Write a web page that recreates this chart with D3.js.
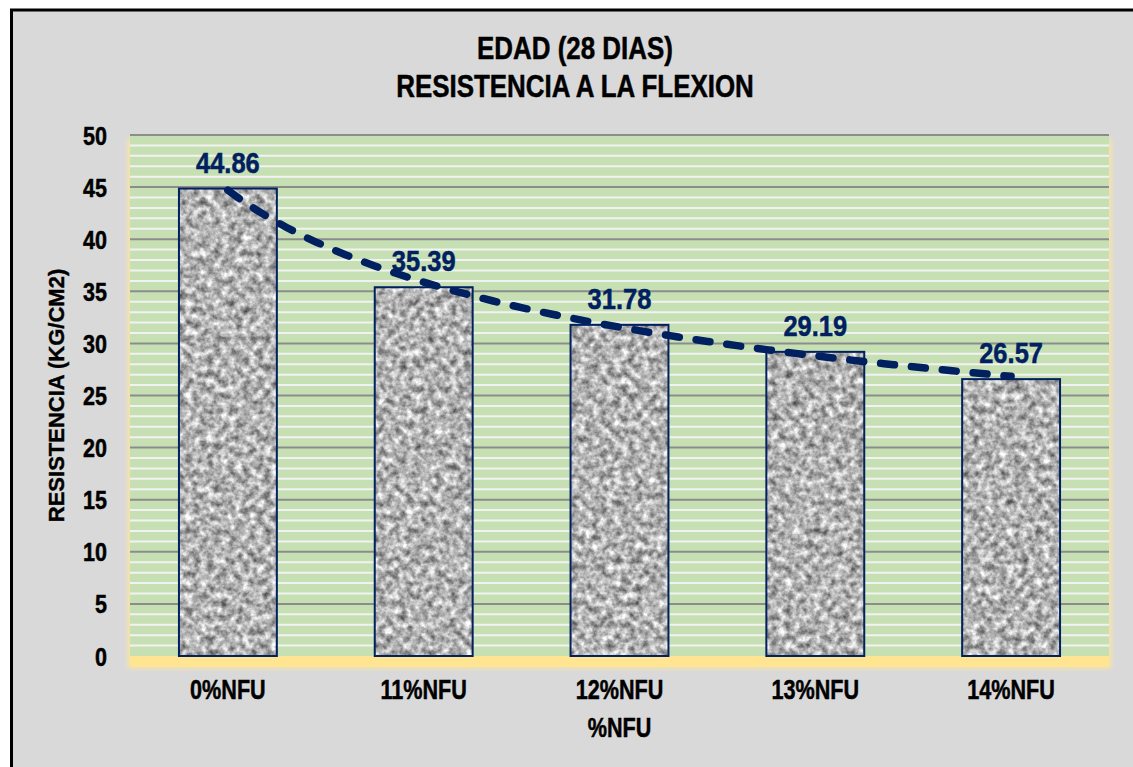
<!DOCTYPE html>
<html>
<head>
<meta charset="utf-8">
<script src="https://cdn.jsdelivr.net/npm/d3@7"></script>
<style>
  html, body { margin: 0; padding: 0; background: #ffffff; }
  svg { display: block; }
  text { font-family: "Liberation Sans", Arial, sans-serif; font-weight: bold; }
</style>
</head>
<body>
<svg id="chart" width="1133" height="767"></svg>
<script>
// Flexural strength at 28 days for each %NFU mix
const categories = ["0%NFU", "11%NFU", "12%NFU", "13%NFU", "14%NFU"];
const resistencia = [44.86, 35.39, 31.78, 29.19, 26.57];
const yTicks = [0, 5, 10, 15, 20, 25, 30, 35, 40, 45, 50];
const titleLines = ["EDAD (28 DIAS)", "RESISTENCIA A LA FLEXION"];
const xTitle = "%NFU";
const yTitle = "RESISTENCIA (KG/CM2)";

const W = 1133, H = 767;
const plot = { left: 130, right: 1109, top: 135, bottom: 656 };
const navy = "#002060";

const svg = d3.select("#chart");
const defs = svg.append("defs");

// Granite-like grey texture for the bars
const noise = defs.append("filter").attr("id", "granite")
  .attr("x", 0).attr("y", 0).attr("width", 1).attr("height", 1)
  .attr("color-interpolation-filters", "sRGB");
noise.append("feTurbulence").attr("type", "fractalNoise")
  .attr("baseFrequency", 0.14).attr("numOctaves", 3).attr("seed", 7).attr("result", "n");
noise.append("feColorMatrix").attr("in", "n").attr("type", "matrix")
  .attr("values", "1.0 0 0 0 0.2  1.0 0 0 0 0.2  1.0 0 0 0 0.2  0 0 0 0 1")
  .attr("result", "g");
noise.append("feGaussianBlur").attr("in", "g").attr("stdDeviation", 0.5);
const pat = defs.append("pattern").attr("id", "granitePat")
  .attr("patternUnits", "userSpaceOnUse").attr("width", W).attr("height", H);
pat.append("rect").attr("width", W).attr("height", H).attr("filter", "url(#granite)");

const glow = defs.append("filter").attr("id", "glow")
  .attr("x", -0.05).attr("y", -0.05).attr("width", 1.1).attr("height", 1.1);
glow.append("feGaussianBlur").attr("stdDeviation", 2.5);

// Chart frame
svg.append("rect").attr("x", 11.5).attr("y", 10).attr("width", W + 20).attr("height", H + 20)
  .attr("fill", "#d9d9d9").attr("stroke", "#000").attr("stroke-width", 3);

// Scales
const x = d3.scaleBand().domain(categories).range([plot.left, plot.right])
  .paddingInner(0.5).paddingOuter(0.25);
const y = d3.scaleLinear().domain([0, 50]).range([plot.bottom, plot.top]);

// Soft yellow floor / edge glow behind the plot area
svg.append("rect").attr("x", plot.left - 2).attr("y", plot.top + 4)
  .attr("width", plot.right - plot.left + 4).attr("height", plot.bottom - plot.top + 8)
  .attr("fill", "#fde6a0").attr("filter", "url(#glow)");
svg.append("rect").attr("x", plot.left).attr("y", plot.bottom)
  .attr("width", plot.right - plot.left).attr("height", 11)
  .attr("fill", "#ffe592");

// Plot background
svg.append("rect").attr("x", plot.left).attr("y", plot.top)
  .attr("width", plot.right - plot.left).attr("height", plot.bottom - plot.top)
  .attr("fill", "#c6e0b4");

// Minor (unit) gridlines
const minor = d3.range(1, 50).filter(v => v % 5 !== 0);
svg.append("g").selectAll("line").data(minor).join("line")
  .attr("x1", plot.left).attr("x2", plot.right)
  .attr("y1", d => y(d)).attr("y2", d => y(d))
  .attr("stroke", "#f2f2f2").attr("stroke-width", 2);

// Major gridlines
svg.append("g").selectAll("line").data(yTicks.filter(v => v > 0)).join("line")
  .attr("x1", plot.left).attr("x2", plot.right)
  .attr("y1", d => y(d)).attr("y2", d => y(d))
  .attr("stroke", "#8c8c8c").attr("stroke-width", 2);

// Bars
svg.append("g").selectAll("rect").data(resistencia).join("rect")
  .attr("x", (d, i) => x(categories[i]))
  .attr("y", d => y(d))
  .attr("width", x.bandwidth())
  .attr("height", d => y(0) - y(d))
  .attr("fill", "url(#granitePat)")
  .attr("stroke", navy).attr("stroke-width", 2);

// Power trendline fitted to the bar values (y = a * n^b)
const lx = resistencia.map((d, i) => Math.log(i + 1));
const ly = resistencia.map(d => Math.log(d));
const mx = d3.mean(lx), my = d3.mean(ly);
const b = d3.sum(lx, (v, i) => (v - mx) * (ly[i] - my)) / d3.sum(lx, v => (v - mx) * (v - mx));
const a = Math.exp(my - b * mx);
const xn = d3.scaleLinear().domain([1, categories.length])
  .range([x(categories[0]) + x.bandwidth() / 2, x(categories[categories.length - 1]) + x.bandwidth() / 2]);
const trend = d3.range(1, categories.length + 0.001, 0.05).map(n => [xn(n), y(a * Math.pow(n, b))]);
svg.append("path").datum(trend)
  .attr("d", d3.line())
  .attr("fill", "none").attr("stroke", navy).attr("stroke-width", 7.5)
  .attr("stroke-linecap", "round").attr("stroke-dasharray", "14 17");

// Text helper: narrows the glyphs to a condensed look and thickens strokes
function condense(sel, k) {
  sel.each(function () {
    const len = this.getComputedTextLength();
    d3.select(this).attr("textLength", len * k).attr("lengthAdjust", "spacingAndGlyphs")
      .attr("stroke", d3.select(this).attr("fill")).attr("stroke-width", 0.5);
  });
  return sel;
}

// Data labels
condense(svg.append("g").selectAll("text").data(resistencia).join("text")
  .attr("x", (d, i) => x(categories[i]) + x.bandwidth() / 2)
  .attr("y", d => y(d) - 16)
  .attr("text-anchor", "middle").attr("font-size", 30).attr("fill", navy)
  .text(d => d.toFixed(2)), 0.85);

// Y axis tick labels
const yAxis = svg.append("g").attr("transform", `translate(${plot.left - 23},0)`)
  .call(d3.axisLeft(y).tickValues(yTicks).tickSize(0).tickPadding(0));
yAxis.select(".domain").remove();
yAxis.selectAll("text").attr("font-size", 25).attr("fill", "#000")
  .attr("font-family", null).attr("dy", "0.36em");
condense(yAxis.selectAll("text"), 0.86);

// X axis tick labels
const xAxis = svg.append("g").attr("transform", `translate(0,${plot.bottom + 43})`)
  .call(d3.axisBottom(x).tickSize(0).tickPadding(0));
xAxis.select(".domain").remove();
xAxis.selectAll("text").attr("font-size", 27).attr("fill", "#000")
  .attr("font-family", null).attr("dy", 0);
condense(xAxis.selectAll("text"), 0.8);

// Axis titles
condense(svg.append("text").attr("x", (plot.left + plot.right) / 2).attr("y", 737)
  .attr("text-anchor", "middle").attr("font-size", 27).attr("fill", "#000")
  .text(xTitle), 0.8);
svg.append("text")
  .attr("transform", `translate(64,${(plot.top + plot.bottom) / 2}) rotate(-90)`)
  .attr("text-anchor", "middle").attr("font-size", 22).attr("fill", "#000")
  .attr("stroke", "#000").attr("stroke-width", 0.4)
  .text(yTitle);

// Chart title
condense(svg.append("g").selectAll("text").data(titleLines).join("text")
  .attr("x", 575).attr("y", (d, i) => 59 + i * 38)
  .attr("text-anchor", "middle").attr("font-size", 32).attr("fill", "#000")
  .text(d => d), 0.81);
</script>
</body>
</html>
